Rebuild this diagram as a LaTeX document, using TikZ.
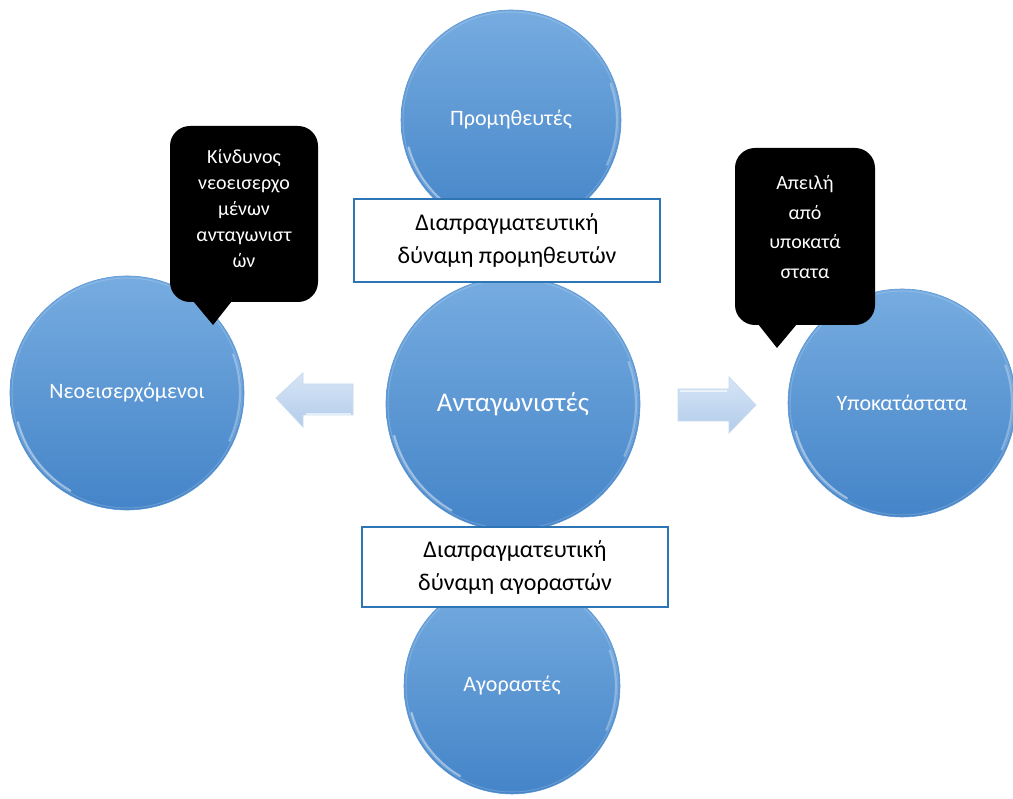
\documentclass[tikz,border=0pt]{standalone}
\usepackage{fontspec}
\setmainfont{Carlito}
\definecolor{orbtop}{RGB}{118,172,224}
\definecolor{orbbot}{RGB}{68,132,200}
\definecolor{orbedge}{RGB}{92,150,212}
\definecolor{boxblue}{RGB}{46,117,182}
\definecolor{arrtop}{RGB}{214,229,246}
\definecolor{arrbot}{RGB}{178,204,234}
\definecolor{arredge}{RGB}{200,218,240}
\begin{document}
\begin{tikzpicture}[x=1pt,y=1pt,
  orb/.style={circle, minimum size=#1, inner sep=0pt, text=white,
    top color=orbtop, bottom color=orbbot, draw=orbedge, line width=0.6pt,
    font=\fontsize{22}{26}\selectfont},
  rim/.style={white, opacity=0.45, line width=2.2pt, line cap=round},
  labelbox/.style={rectangle, draw=boxblue, line width=1.6pt, fill=white,
    text=black, align=center, minimum width=306pt, inner sep=0pt,
    font=\fontsize{24}{33}\selectfont},
  bubble/.style={rectangle, rounded corners=20pt, fill=black, inner sep=0pt},
  bubbletext/.style={text=white, align=center, inner sep=0pt,
    font=\fontsize{20}{#1}\selectfont}
]
\useasboundingbox[fill=white] (0,0) rectangle (1013,799);

% outer forces
\node[orb=220pt] (sup) at (511,679) {Προμηθευτές};
\node[orb=216pt] (buy) at (512,113) {Αγοραστές};
\node[orb=254pt, font=\fontsize{27}{30}\selectfont] (comp) at (513,395) {Ανταγωνιστές};
\node[orb=234pt] (new) at (127,406) {Νεοεισερχόμενοι};
\node[orb=228pt] (subs) at (902,396) {Υποκατάστατα};

% glossy rims
\foreach \c/\r in {sup/110, buy/108, comp/127, new/117, subs/114}{
  \draw[rim] (\c.center) ++(195:\r-4) arc[start angle=195, end angle=240, radius=\r-4];
  \draw[rim, opacity=0.3] (\c.center) ++(20:\r-4) arc[start angle=20, end angle=-25, radius=\r-4];
  \draw[white, opacity=0.18, line width=1pt] (\c.center) circle[radius=\r-2];
}

% bargaining power labels
\node[labelbox, minimum height=83pt] (supbox) at (507,558.5)
  {Διαπραγματευτική\\δύναμη προμηθευτών};
\node[labelbox, minimum height=80pt] (buybox) at (515,232)
  {Διαπραγματευτική\\δύναμη αγοραστών};

% speech bubbles
\node[bubble, minimum width=148pt, minimum height=176pt] (risk) at (244,585) {};
\fill[black] (193,498) -- (213,474) -- (232,498) -- cycle;
\node[bubbletext=26] (risktext) at (244,590)
  {Κίνδυνος\\νεοεισερχο\\μένων\\ανταγωνιστ\\ών};
\node[bubble, minimum width=140pt, minimum height=177pt] (threat) at (805,562.5) {};
\fill[black] (758,475) -- (777,451) -- (797,475) -- cycle;
\node[bubbletext=29.5] (threattext) at (805,572)
  {Απειλή\\από\\υποκατά\\στατα};

% block arrows
\path[top color=arrtop, bottom color=arrbot, draw=arredge, line width=0.8pt]
  (276,401) -- (303,426) -- (303,415) -- (353,415) -- (353,384)
  -- (303,384) -- (303,372) -- cycle;
\draw[white, opacity=0.6, line width=1.2pt] (306,385) -- (351,385);
\path[top color=arrtop, bottom color=arrbot, draw=arredge, line width=0.8pt]
  (756,394) -- (729,422) -- (729,410) -- (678,410) -- (678,378)
  -- (729,378) -- (729,366) -- cycle;
\draw[white, opacity=0.6, line width=1.2pt] (680,408) -- (727,408);
\end{tikzpicture}
\end{document}
